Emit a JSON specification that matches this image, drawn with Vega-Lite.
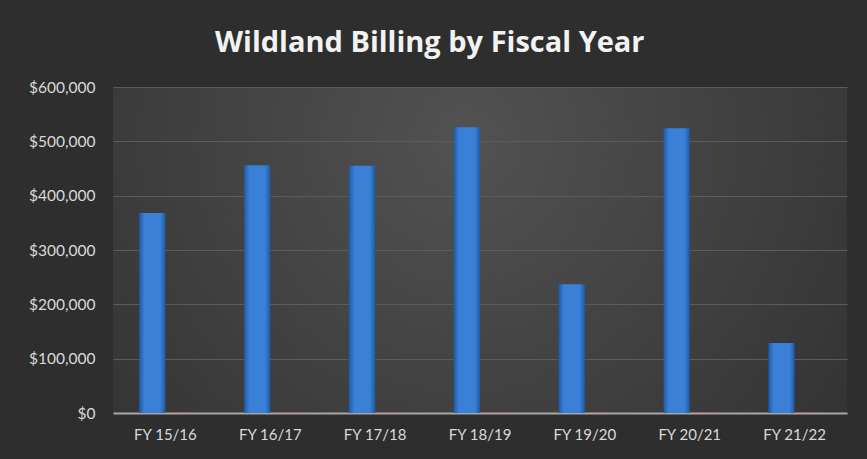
{
  "$schema": "https://vega.github.io/schema/vega-lite/v6.json",
  "width": 734,
  "height": 326,
  "autosize": {"type": "none"},
  "padding": {"left": 113, "top": 87, "right": 20, "bottom": 46},
  "background": "#2e2e2e",
  "title": {
    "text": "Wildland Billing by Fiscal Year",
    "frame": "bounds",
    "anchor": "middle",
    "font": "Open Sans",
    "fontSize": 29,
    "fontWeight": "bold",
    "color": "#f2f2f2",
    "offset": 22,
    "dx": -8
  },
  "config": {
    "view": {
      "stroke": null,
      "fill": {
        "gradient": "radial",
        "x1": 0.48, "y1": 0.35, "r1": 0,
        "x2": 0.48, "y2": 0.35, "r2": 0.75,
        "stops": [
          {"offset": 0, "color": "#525252"},
          {"offset": 1, "color": "#2e2e2e"}
        ]
      }
    },
    "axis": {
      "labelFont": "Lato",
      "labelColor": "#d9d9d9",
      "labelFontSize": 15,
      "ticks": false,
      "title": null
    }
  },
  "data": {
    "values": [
      {"year": "FY 15/16", "series": "Billing", "amount": 368000},
      {"year": "FY 16/17", "series": "Billing", "amount": 456000},
      {"year": "FY 17/18", "series": "Billing", "amount": 455000},
      {"year": "FY 18/19", "series": "Billing", "amount": 526000},
      {"year": "FY 19/20", "series": "Billing", "amount": 237000},
      {"year": "FY 20/21", "series": "Billing", "amount": 524000},
      {"year": "FY 21/22", "series": "Billing", "amount": 129000},
      {"year": "FY 15/16", "series": "Other", "amount": 1500},
      {"year": "FY 16/17", "series": "Other", "amount": 1500},
      {"year": "FY 17/18", "series": "Other", "amount": 1500},
      {"year": "FY 18/19", "series": "Other", "amount": 1500},
      {"year": "FY 19/20", "series": "Other", "amount": 1500},
      {"year": "FY 20/21", "series": "Other", "amount": 1500},
      {"year": "FY 21/22", "series": "Other", "amount": 1500}
    ]
  },
  "encoding": {
    "x": {
      "field": "year",
      "type": "nominal",
      "sort": null,
      "scale": {"paddingInner": 0.5, "paddingOuter": 0.25},
      "axis": {
        "labelAngle": 0,
        "labelPadding": 14,
        "domainColor": "#a6a6a6",
        "domainWidth": 2,
        "grid": false
      }
    },
    "xOffset": {
      "field": "series",
      "type": "nominal",
      "scale": {"domain": ["Billing", "Other"], "paddingInner": 0}
    },
    "y": {
      "field": "amount",
      "type": "quantitative",
      "scale": {"domain": [0, 600000]},
      "axis": {
        "values": [0, 100000, 200000, 300000, 400000, 500000, 600000],
        "format": "$,.0f",
        "labelPadding": 18,
        "labelFontSize": 15.5,
        "domain": false,
        "gridColor": "#5c5c5c",
        "gridWidth": 1
      }
    }
  },
  "layer": [
    {
      "transform": [{"filter": "datum.series === 'Billing'"}],
      "mark": {
        "type": "bar",
        "fill": {
          "gradient": "linear",
          "x1": 0, "y1": 0, "x2": 1, "y2": 0,
          "stops": [
            {"offset": 0, "color": "#1d5aa6"},
            {"offset": 0.2, "color": "#3a80d6"},
            {"offset": 0.8, "color": "#3a80d6"},
            {"offset": 1, "color": "#1d5aa6"}
          ]
        }
      }
    },
    {
      "transform": [{"filter": "datum.series === 'Other'"}],
      "mark": {"type": "bar", "fill": "#b65a57", "opacity": 0.8}
    }
  ]
}
